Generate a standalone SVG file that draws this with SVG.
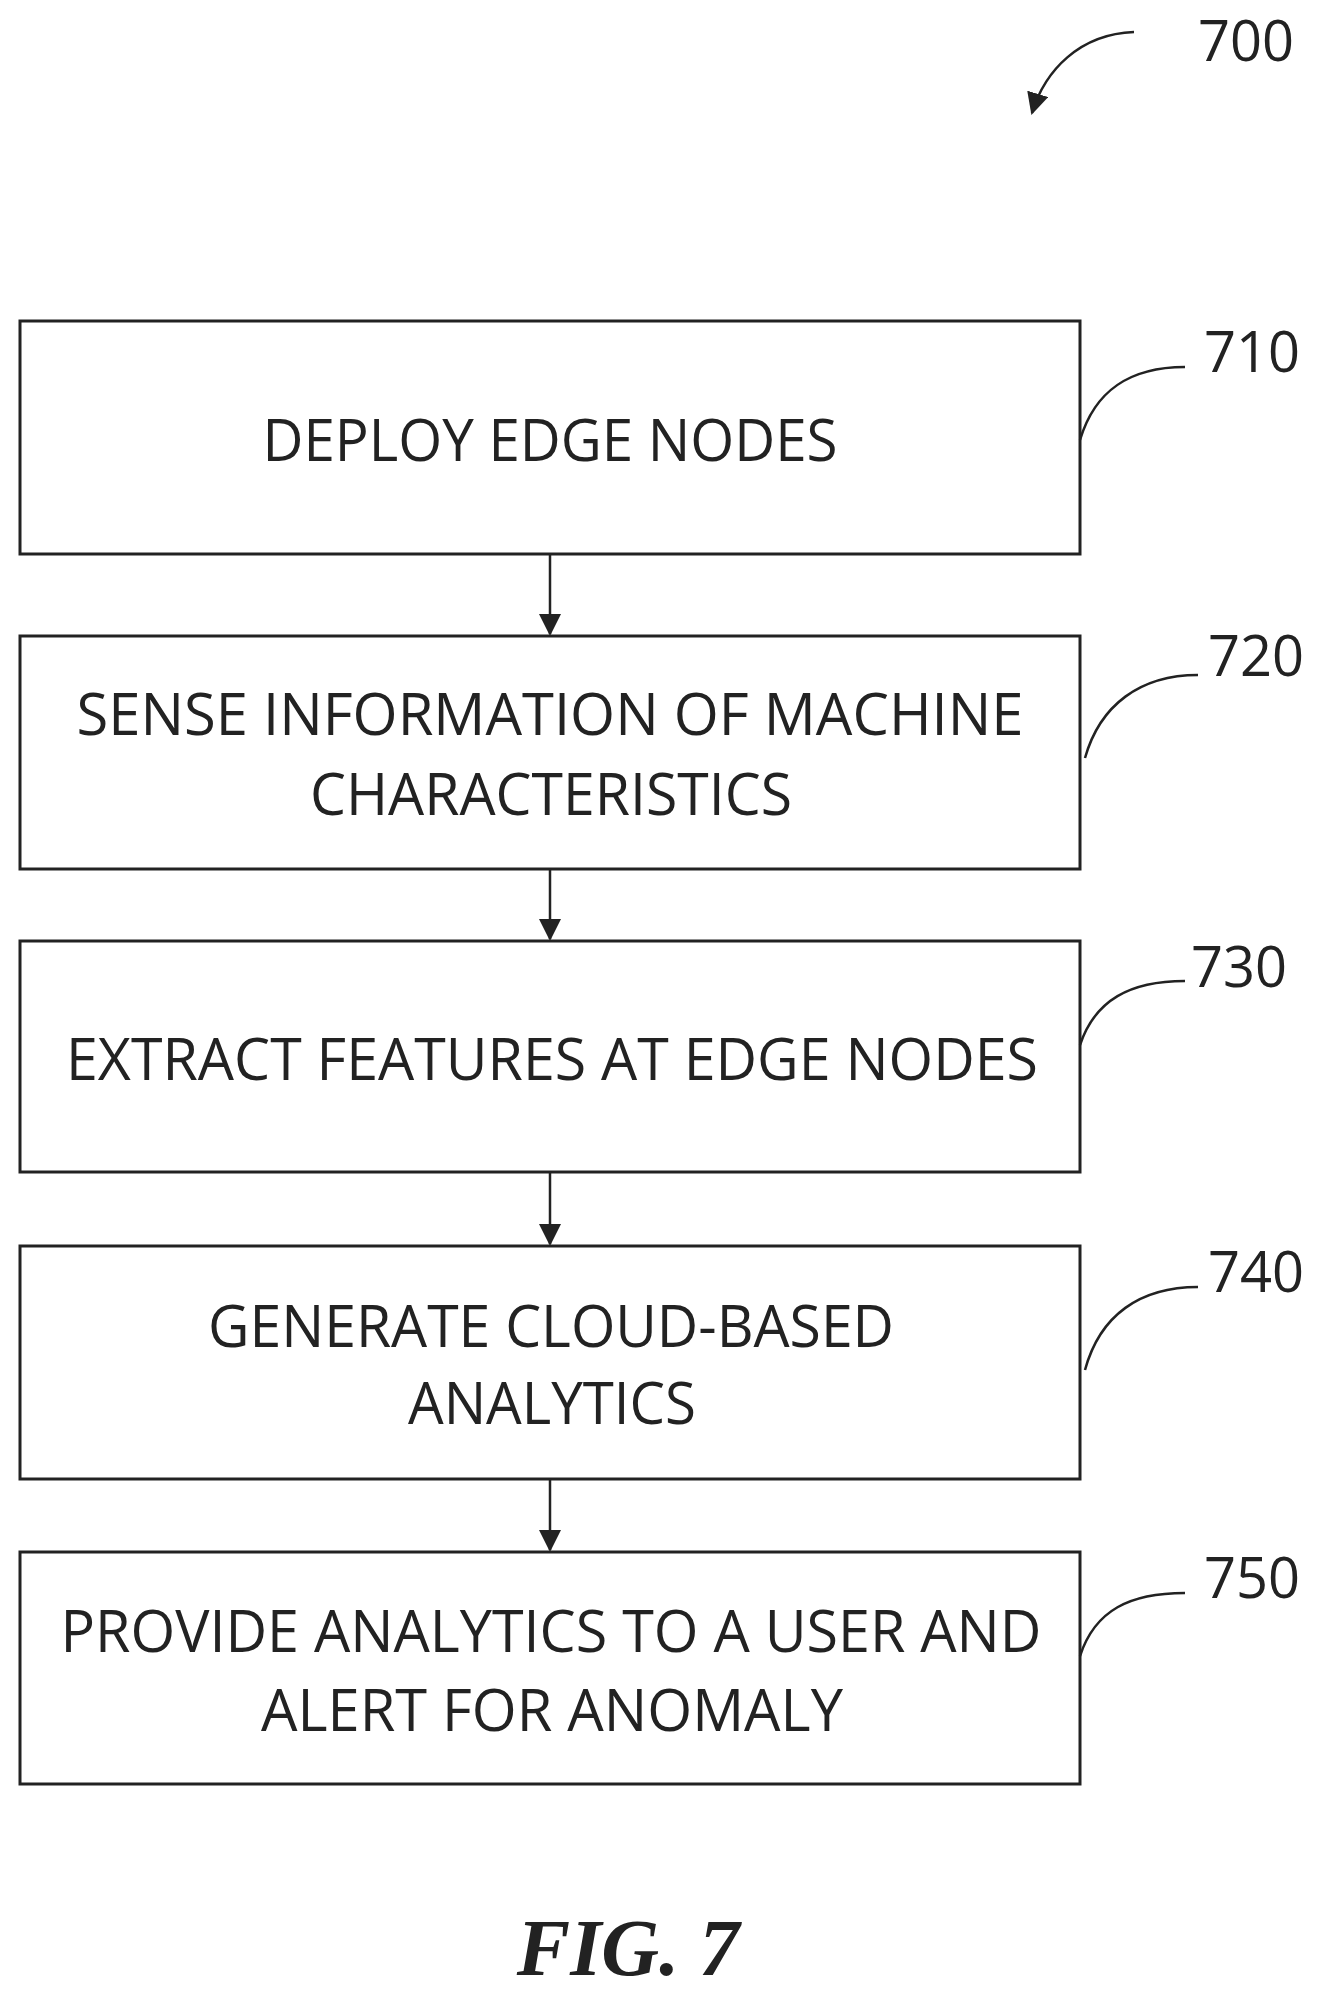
<svg xmlns="http://www.w3.org/2000/svg" width="1326" height="1993" viewBox="0 0 1326 1993">
<style>
.box{fill:#fff;stroke:#222;stroke-width:3}
.t{font-family:"Open Sans","Liberation Sans",sans-serif;font-size:58px;fill:#222;text-anchor:middle}
.lbl{font-family:"Open Sans","Liberation Sans",sans-serif;font-size:56px;fill:#222}
.ln{fill:none;stroke:#222;stroke-width:2.5}
</style>
<defs><marker id="ah" markerWidth="10" markerHeight="10" refX="9" refY="5" orient="auto" markerUnits="userSpaceOnUse" viewBox="0 0 10 10"><path d="M0,0L10,5L0,10z" fill="#222"/></marker>
<marker id="ah2" markerWidth="22" markerHeight="22" refX="20" refY="11" orient="auto" markerUnits="userSpaceOnUse" viewBox="0 0 22 22"><path d="M0,0L22,11L0,22z" fill="#222"/></marker></defs>
<rect width="1326" height="1993" fill="#fff"/>
<g id="n700"><text class="lbl" x="1198" y="61">700</text></g>
<g id="n710"><rect class="box" x="20" y="321" width="1060" height="233"/><text class="t" x="550" y="461" textLength="575" lengthAdjust="spacingAndGlyphs">DEPLOY EDGE NODES</text><text class="lbl" x="1204" y="372">710</text></g>
<g id="n720"><rect class="box" x="20" y="636" width="1060" height="233"/><text class="t" x="550" y="735" textLength="947" lengthAdjust="spacingAndGlyphs">SENSE INFORMATION OF MACHINE</text><text class="t" x="551" y="815" textLength="482" lengthAdjust="spacingAndGlyphs">CHARACTERISTICS</text><text class="lbl" x="1208" y="676">720</text></g>
<g id="n730"><rect class="box" x="20" y="941" width="1060" height="231"/><text class="t" x="552" y="1080" textLength="972" lengthAdjust="spacingAndGlyphs">EXTRACT FEATURES AT EDGE NODES</text><text class="lbl" x="1191" y="987">730</text></g>
<g id="n740"><rect class="box" x="20" y="1246" width="1060" height="233"/><text class="t" x="551" y="1347" textLength="686" lengthAdjust="spacingAndGlyphs">GENERATE CLOUD-BASED</text><text class="t" x="552" y="1424" textLength="288" lengthAdjust="spacingAndGlyphs">ANALYTICS</text><text class="lbl" x="1208" y="1292">740</text></g>
<g id="n750"><rect class="box" x="20" y="1552" width="1060" height="232"/><text class="t" x="551" y="1652" textLength="981" lengthAdjust="spacingAndGlyphs">PROVIDE ANALYTICS TO A USER AND</text><text class="t" x="552" y="1731" textLength="582" lengthAdjust="spacingAndGlyphs">ALERT FOR ANOMALY</text><text class="lbl" x="1204" y="1598">750</text></g>
<g id="connectors">
<path class="ln" d="M550,554V634" marker-end="url(#ah2)"/>
<path class="ln" d="M550,869V939" marker-end="url(#ah2)"/>
<path class="ln" d="M550,1172V1244" marker-end="url(#ah2)"/>
<path class="ln" d="M550,1479V1550" marker-end="url(#ah2)"/>
<path class="ln" d="M1134,32C1080,34 1045,70 1032,113" marker-end="url(#ah2)"/>
<path class="ln" d="M1080,440C1095,390 1130,367 1185,367"/>
<path class="ln" d="M1085,758C1100,705 1140,675 1198,675"/>
<path class="ln" d="M1080,1045C1095,1000 1130,981 1185,981"/>
<path class="ln" d="M1085,1370C1100,1315 1140,1287 1198,1287"/>
<path class="ln" d="M1080,1656C1095,1610 1130,1593 1185,1593"/>
</g>
<text x="628" y="1975" text-anchor="middle" font-family="Liberation Serif,serif" font-size="80" font-weight="bold" font-style="italic" fill="#222">FIG. 7</text>
</svg>
